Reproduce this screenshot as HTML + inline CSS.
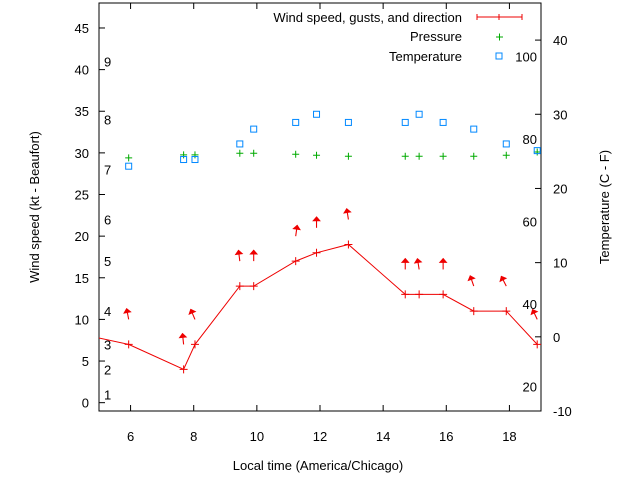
<!DOCTYPE html>
<html><head><meta charset="utf-8"><style>
html,body{margin:0;padding:0;background:#fff;}
svg{display:block;font-family:"Liberation Sans",sans-serif;}
text{font-size:13px;fill:#000;}
</style></head><body>
<svg id="chart" width="640" height="480" viewBox="0 0 640 480">
<defs><clipPath id="pc"><rect x="99" y="3" width="442" height="408"/></clipPath></defs>
<rect x="99" y="3" width="442" height="408" fill="none" stroke="#000" stroke-width="1"/>
<g id="axes"></g>
<g id="marks" clip-path="url(#pc)"></g>
<text x="318" y="470" text-anchor="middle">Local time (America/Chicago)</text>
<text transform="translate(39,207) rotate(-90)" text-anchor="middle">Wind speed (kt - Beaufort)</text>
<text transform="translate(609,207) rotate(-90)" text-anchor="middle">Temperature (C - F)</text>
<g>
<text x="462" y="22" text-anchor="end">Wind speed, gusts, and direction</text>
<path d="M477 17H522M477 14V20M499 14V20M522 14V20" stroke="#e00" fill="none"/>
<text x="462" y="41" text-anchor="end">Pressure</text>
<path d="M496 37H503M499.5 33.5V40.5" stroke="#0a0"/>
<text x="462" y="61" text-anchor="end">Temperature</text>
<rect x="496" y="53" width="6" height="6" fill="none" stroke="#08f"/>
</g>
</svg>
<script>
const times=[4.6,5.94,7.68,8.04,9.46,9.9,11.23,11.89,12.9,14.7,15.14,15.9,16.87,17.9,18.88];
const windKt=[8.1,7,4,7,14,14,17,18,19,13,13,13,11,11,7];
const gustKt=[null,10,7,10,17,17,20,21,22,16,16,16,14,14,10];
const windDir=[null,169,174,157,173,180,188,180,171,180,171,180,161,153,155];
const pressure=[null,29.4,29.76,29.76,29.96,29.96,29.84,29.72,29.6,29.6,29.6,29.6,29.6,29.72,30.1];
const tempC=[null,23.0,23.9,23.9,26.0,28.0,28.9,30.0,28.9,28.9,30.0,28.9,28.0,26.0,25.1];
const xTicks=[6,8,10,12,14,16,18];
const yTicks=[0,5,10,15,20,25,30,35,40,45];
const y2Ticks=[-10,0,10,20,30,40];
const beaufortKt=[1,4,7,11,17,22,28,34,41];
const beaufortLabels=["1","2","3","4","5","6","7","8","9"];
const fahrenheitTicks=[20,40,60,80,100];

const L=99,R=541,T=3,B=411;
const X=t=>L+(t-5)/(19-5)*(R-L);
const Y=v=>B-(v-(-1))/(48-(-1))*(B-T);
const Y2=c=>B-(c-(-10))/(45-(-10))*(B-T);
const NS="http://www.w3.org/2000/svg";
function mk(tag,attrs,parent){const e=document.createElementNS(NS,tag);for(const k in attrs)e.setAttribute(k,attrs[k]);parent.appendChild(e);return e;}
const axes=document.getElementById('axes'),marks=document.getElementById('marks');

xTicks.forEach(t=>{
  const p=mk('path',{d:`M${X(t)} ${B}v-6M${X(t)} ${T}v6`,stroke:'#000'},axes);
  
  
  const tx=mk('text',{x:X(t),y:B+30,'text-anchor':'middle'},axes);tx.textContent=t;
  
  
});
yTicks.forEach(v=>{
  const p=mk('path',{d:`M${L} ${Y(v)}h6`,stroke:'#000'},axes);
  
  
  const tx=mk('text',{x:L-10,y:Y(v)+5,'text-anchor':'end'},axes);tx.textContent=v;
  
  
});
y2Ticks.forEach(c=>{
  const p=mk('path',{d:`M${R} ${Y2(c)}h-6`,stroke:'#000'},axes);
  
  
  const tx=mk('text',{x:R+12,y:Y2(c)+5,'text-anchor':'start'},axes);tx.textContent=c;
  
  
});
beaufortKt.forEach((k,i)=>{
  const tx=mk('text',{x:104,y:Y(k)+5},axes);tx.textContent=beaufortLabels[i];
  
  
});
fahrenheitTicks.forEach(f=>{
  const c=(f-32)*5/9;
  const tx=mk('text',{x:537,y:Y2(c)+5,'text-anchor':'end'},axes);tx.textContent=f;
  
  
});

const line=mk('polyline',{points:times.map((t,i)=>X(t)+','+Y(windKt[i])).join(' '),fill:'none',stroke:'#e00','stroke-width':1},marks);


times.forEach((t,i)=>{
  const x=X(t),y=Y(windKt[i]);
  const p=mk('path',{d:`M${x-4} ${y}h8M${x} ${y-4}v8`,stroke:'#e00'},marks);
  
  
  if(gustKt[i]!==null){
    const gy=Y(gustKt[i]);
    const a=(windDir[i]+180)*Math.PI/180;
    const dx=Math.sin(a),dy=-Math.cos(a),len=11;
    const hx=x+dx*len,hy=gy+dy*len;
    const g=mk('g',{},marks);
    
    
    mk('line',{x1:x,y1:gy,x2:hx,y2:hy,stroke:'#e00','stroke-width':1.1},g);
    const px=-dy,py=dx;
    const bx=hx-dx*4,by=hy-dy*4;
    mk('polygon',{points:`${hx},${hy} ${bx+px*3.5},${by+py*3.5} ${bx-px*3.5},${by-py*3.5}`,fill:'#e00',stroke:'#e00','stroke-width':0.8},g);
  }
  if(pressure[i]!==null){
    const py2=Y(pressure[i]);
    const pp=mk('path',{d:`M${x-3.5} ${py2}h7M${x} ${py2-3.5}v7`,stroke:'#0a0'},marks);
    
    
  }
  if(tempC[i]!==null){
    const ty=Y2(tempC[i]);
    const r=mk('rect',{x:x-3,y:ty-3,width:6,height:6,fill:'none',stroke:'#08f'},marks);
    
    
  }
});
</script>
</body></html>
